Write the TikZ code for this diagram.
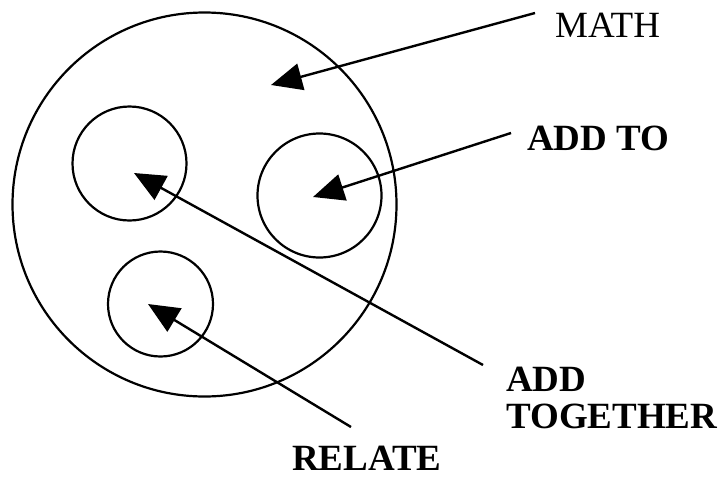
\documentclass[tikz,border=0pt]{standalone}
\usepackage{fontspec}
\setmainfont{Liberation Serif}
\usetikzlibrary{arrows.meta}

\begin{document}
\begin{tikzpicture}[x=1pt,y=-1pt,
    ring/.style={circle,draw,black,line width=2.2pt,inner sep=0pt},
    pointer/.style={black,line width=2.4pt,-{Triangle[length=31pt,width=27pt]}},
    tag/.style={inner sep=0pt,anchor=base west,font=\fontsize{37}{37}\selectfont},
    boldtag/.style={tag,font=\fontsize{37}{37}\selectfont\bfseries}]
\useasboundingbox (0,0) rectangle (719,477);

% Circles
\node[ring,minimum size=384pt] (math) at (204.5,204.5) {};
\node[ring,minimum size=114pt] (addtog) at (129.5,163.5) {};
\node[ring,minimum size=124pt] (addto) at (319.5,195.5) {};
\node[ring,minimum size=105pt] (relate) at (160.5,304) {};

% Arrow tips and tails
\coordinate (mathtip) at (271,85);
\coordinate (addtotip) at (313,197);
\coordinate (addtogtip) at (134,173);
\coordinate (relatetip) at (148,304);
\coordinate (mathtail) at (535,13);
\coordinate (addtotail) at (511,133);
\coordinate (addtogtail) at (483,365);
\coordinate (relatetail) at (351,427);

% Labels
\node[tag] (mathlbl) at (555,37) {MATH};
\node[boldtag] (addtolbl) at (527,150) {ADD TO};
\node[boldtag,align=left] (addtoglbl) at (506,428) {ADD\\TOGETHER};
\node[boldtag] (relatelbl) at (292,470) {RELATE};

% Pointers
\draw[pointer] (mathtail) -- (mathtip);
\draw[pointer] (addtotail) -- (addtotip);
\draw[pointer] (addtogtail) -- (addtogtip);
\draw[pointer] (relatetail) -- (relatetip);
\end{tikzpicture}
\end{document}
